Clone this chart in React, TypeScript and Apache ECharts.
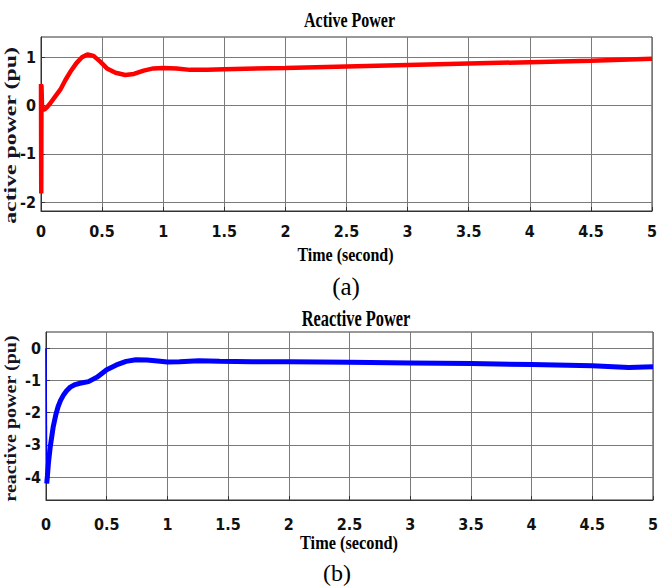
import React, { useEffect, useRef } from "react";
import * as echarts from "echarts";

const activeTime = [0, 0.002, 0.004, 0.008, 0.015, 0.03, 0.05, 0.076, 0.117, 0.158, 0.2, 0.24, 0.29, 0.335, 0.38, 0.43, 0.485, 0.54, 0.61, 0.69, 0.76, 0.84, 0.92, 1.0, 1.11, 1.22, 1.36, 1.5, 2, 2.5, 3, 3.5, 4, 4.5, 5];
const activePower = [0.45, -1.82, 0.42, 0.0, -0.08, -0.08, -0.03, 0.05, 0.19, 0.33, 0.53, 0.7, 0.88, 1.0, 1.06, 1.03, 0.91, 0.77, 0.68, 0.635, 0.655, 0.725, 0.77, 0.78, 0.77, 0.74, 0.74, 0.755, 0.78, 0.81, 0.84, 0.87, 0.9, 0.93, 0.97];

const reactiveTime = [0, 0.006, 0.012, 0.02, 0.035, 0.06, 0.08, 0.1, 0.12, 0.145, 0.17, 0.2, 0.24, 0.28, 0.35, 0.42, 0.5, 0.58, 0.66, 0.74, 0.83, 0.92, 1.0, 1.1, 1.26, 1.43, 1.7, 2, 2.5, 3, 3.5, 4, 4.5, 4.8, 5];
const reactivePower = [0, -4.2, -3.95, -3.57, -3.06, -2.43, -2.08, -1.81, -1.62, -1.45, -1.32, -1.21, -1.13, -1.09, -1.04, -0.9, -0.67, -0.52, -0.41, -0.36, -0.37, -0.4, -0.43, -0.42, -0.39, -0.41, -0.42, -0.42, -0.44, -0.46, -0.48, -0.51, -0.55, -0.6, -0.58];

const activeTicks = [-2, -1, 0, 1];
const reactiveTicks = [-4, -3, -2, -1, 0];

const pairs = (t: number[], v: number[]) => t.map((x, i) => [x, v[i]]);

const tickFont = "'Liberation Sans Narrow','Arial Narrow','DejaVu Sans Condensed','Liberation Sans',Arial,sans-serif";
const serif = "'Liberation Serif','Times New Roman',serif";

function xAxis(gridIndex: number, margin: number) {
  return {
    type: "value",
    gridIndex,
    min: 0,
    max: 5,
    interval: 0.5,
    axisLine: { show: true, onZero: false, lineStyle: { color: "#333", width: 1 } },
    axisTick: { show: true, inside: true, length: 4, lineStyle: { color: "#333" } },
    splitLine: { show: true, lineStyle: { color: "#7a7a7a", width: 1 } },
    axisLabel: { margin, color: "#111", fontFamily: tickFont, fontWeight: "bold", fontSize: 16 },
  };
}

function yAxis(gridIndex: number, min: number, max: number, ticks: number[]) {
  return {
    type: "value",
    gridIndex,
    min,
    max,
    axisLine: { show: true, onZero: false, lineStyle: { color: "#333", width: 1 } },
    axisTick: { show: true, inside: true, length: 4, lineStyle: { color: "#333" }, customValues: ticks },
    splitLine: { show: true, lineStyle: { color: "#7a7a7a", width: 1 } },
    axisLabel: {
      margin: 5,
      color: "#111",
      fontFamily: tickFont,
      fontWeight: "bold",
      fontSize: 16,
      customValues: ticks,
    },
  };
}

function label(text: string, x: number, y: number, size: number, bold: boolean, sx = 1, sy = 1, rotation = 0, fill = "#000") {
  return {
    type: "text",
    x,
    y,
    rotation,
    scaleX: sx,
    scaleY: sy,
    silent: true,
    style: {
      text,
      fill,
      font: `${bold ? "bold " : ""}${size}px ${serif}`,
      textAlign: "center",
      textVerticalAlign: "middle",
    },
  };
}

export default function App() {
  const ref = useRef<HTMLDivElement>(null);
  useEffect(() => {
    if (!ref.current) return;
    const chart = echarts.init(ref.current, undefined, { renderer: "svg" });
    chart.setOption({
      animation: false,
      backgroundColor: "#fff",
      grid: [
        { left: 41, top: 37, width: 611, height: 174, show: true, borderColor: "#333", borderWidth: 1, backgroundColor: "transparent" },
        { left: 46, top: 332, width: 611, height: 168, show: true, borderColor: "#333", borderWidth: 1, backgroundColor: "transparent" },
      ],
      xAxis: [xAxis(0, 12), xAxis(1, 16)],
      yAxis: [yAxis(0, -2.18, 1.42, activeTicks), yAxis(1, -4.71, 0.5, reactiveTicks)],
      series: [
        {
          type: "line",
          xAxisIndex: 0,
          yAxisIndex: 0,
          data: pairs(activeTime, activePower),
          showSymbol: false,
          lineStyle: { color: "#ff0000", width: 4.5 },
          itemStyle: { color: "#ff0000" },
        },
        {
          type: "line",
          xAxisIndex: 1,
          yAxisIndex: 1,
          data: pairs(reactiveTime.slice(0, 2), reactivePower.slice(0, 2)),
          showSymbol: false,
          lineStyle: { color: "#0000ff", width: 1.5 },
        },
        {
          type: "line",
          xAxisIndex: 1,
          yAxisIndex: 1,
          data: pairs(reactiveTime.slice(1), reactivePower.slice(1)),
          showSymbol: false,
          lineStyle: { color: "#0000ff", width: 5 },
          itemStyle: { color: "#0000ff" },
        },
      ],
      graphic: [
        label("Active Power", 349.5, 19.5, 16, true, 1, 1.35),
        label("Time (second)", 345.5, 254, 16, true, 1, 1.2),
        label("(a)", 346, 286, 25, false),
        label("Reactive Power", 356, 318.5, 16.4, true, 1, 1.35),
        label("Time (second)", 349, 542.5, 16.3, true, 1, 1.2),
        label("(b)", 337, 572.5, 24, false),
        label("active power (pu)", 10.5, 135.5, 17, true, 1.4, 1, Math.PI / 2, "#141428"),
        label("reactive power (pu)", 10, 418.5, 17, true, 1.18, 1, Math.PI / 2, "#141428"),
      ],
    });
    return () => chart.dispose();
  }, []);
  return <div ref={ref} style={{ position: "absolute", left: 0, top: 0, width: 661, height: 586 }} />;
}
